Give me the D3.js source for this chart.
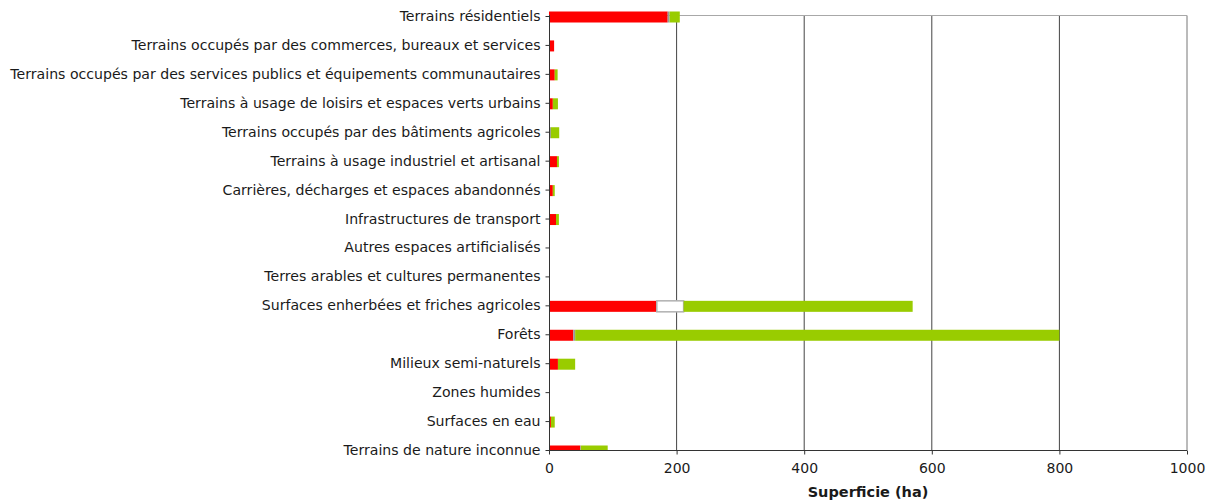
<!DOCTYPE html>
<html lang="fr">
<head>
<meta charset="UTF-8">
<title>Superficie</title>
<style>
    body { margin: 0; background: #fff; }
    text { font-family: "DejaVu Sans", Verdana, sans-serif; fill: #1a1a1a; }
</style>
</head>
<body>
<script src="https://d3js.org/d3.v7.min.js"></script>
<script>

    const categories = [
        'Terrains résidentiels',
        'Terrains occupés par des commerces, bureaux et services',
        'Terrains occupés par des services publics et équipements communautaires',
        'Terrains à usage de loisirs et espaces verts urbains',
        'Terrains occupés par des bâtiments agricoles',
        'Terrains à usage industriel et artisanal',
        'Carrières, décharges et espaces abandonnés',
        'Infrastructures de transport',
        'Autres espaces artificialisés',
        'Terres arables et cultures permanentes',
        'Surfaces enherbées et friches agricoles',
        'Forêts',
        'Milieux semi-naturels',
        'Zones humides',
        'Surfaces en eau',
        'Terrains de nature inconnue'
    ];

    const redValues   = [186, 8, 9, 6, 0, 12.5, 6, 11, 0, 0, 168, 38, 14, 0, 3, 49];
    const grayValues  = [3, 0, 0, 0, 3, 0, 0, 0, 0, 0, 1, 3, 0, 0, 0, 1];
    const whiteValues = [0, 0, 0, 0, 0, 0, 0, 0, 0, 0, 42, 0, 0, 0, 0, 0];
    const greenValues = [16, 0, 4.5, 8, 13, 3, 3, 4.5, 0, 0, 359, 759, 27, 0, 6, 42];

    const xTicks = [0, 200, 400, 600, 800, 1000];

    const width = 1216;
    const height = 504;
    const mLeft = 549, mRight = 1187, mTop = 16, mBottom = 450;

    let svg = d3.select('body').append('svg')
        .attr('width', width)
        .attr('height', height);

    let x = d3.scaleLinear().domain([0, 1000]).range([mLeft, mRight]);
    let y = d3.scalePoint().domain(categories).range([mTop, mBottom]);

    svg.append('defs').append('clipPath').attr('id', 'plot')
        .append('rect').attr('x', 0).attr('y', 0).attr('width', width).attr('height', mBottom);

    // grid lines
    svg.append('g').selectAll('line')
        .data(xTicks.slice(1))
        .enter().append('line')
        .attr('x1', d => x(d)).attr('x2', d => x(d))
        .attr('y1', mTop - 0.5).attr('y2', mBottom)
        .attr('stroke', d => d === 1000 ? '#777' : '#444')
        .attr('stroke-width', 1);

    svg.append('line')
        .attr('x1', mLeft).attr('x2', mRight)
        .attr('y1', mTop - 0.5).attr('y2', mTop - 0.5)
        .attr('stroke', '#a8a8a8');

    // stacked bars
    const series = [
        {values: redValues, fill: '#ff0000', stroke: 'none'},
        {values: grayValues, fill: '#999999', stroke: 'none'},
        {values: whiteValues, fill: '#ffffff', stroke: '#b0b0b0'},
        {values: greenValues, fill: '#99cc00', stroke: 'none'}
    ];

    let rows = categories.map((c, i) => {
        let acc = 0;
        return series.map(s => {
            let seg = {cat: c, x0: acc, x1: acc + s.values[i], fill: s.fill, stroke: s.stroke};
            acc += s.values[i];
            return seg;
        });
    }).flat().filter(d => d.x1 > d.x0);

    const barH = 11;
    svg.append('g').attr('clip-path', 'url(#plot)')
        .selectAll('rect')
        .data(rows)
        .enter().append('rect')
        .attr('x', d => x(d.x0))
        .attr('y', d => y(d.cat) - barH / 2 + 1)
        .attr('width', d => x(d.x1) - x(d.x0))
        .attr('height', barH)
        .attr('fill', d => d.fill)
        .attr('stroke', d => d.stroke)
        .attr('stroke-width', 1.5);

    // left axis
    let yAxis = svg.append('g')
        .attr('transform', 'translate(' + (mLeft + 0.5) + ',0)')
        .call(d3.axisLeft(y).tickSize(4).tickPadding(5));
    yAxis.select('.domain').attr('stroke', '#333').attr('d', 'M0,' + (mTop - 1) + 'V' + mBottom);
    yAxis.selectAll('.tick line').attr('stroke', '#333');
    yAxis.selectAll('text').attr('font-size', '14.1px').attr('fill', '#1a1a1a')
        .style('font-family', 'DejaVu Sans, Verdana, sans-serif');

    // bottom axis
    let xAxis = svg.append('g')
        .attr('transform', 'translate(0,' + (mBottom + 0.5) + ')')
        .call(d3.axisBottom(x).tickValues(xTicks).tickFormat(d3.format('d')).tickSize(4).tickPadding(9));
    xAxis.select('.domain').attr('stroke', '#333').attr('d', 'M' + mLeft + ',0H' + mRight);
    xAxis.selectAll('.tick line').attr('stroke', '#333');
    xAxis.selectAll('text').attr('font-size', '14px').attr('fill', '#1a1a1a')
        .style('font-family', 'DejaVu Sans, Verdana, sans-serif');

    svg.append('text')
        .attr('x', (mLeft + mRight) / 2)
        .attr('y', 497)
        .attr('text-anchor', 'middle')
        .attr('font-size', '14.5px')
        .attr('font-weight', 'bold')
        .text('Superficie (ha)');

</script>
</body>
</html>
